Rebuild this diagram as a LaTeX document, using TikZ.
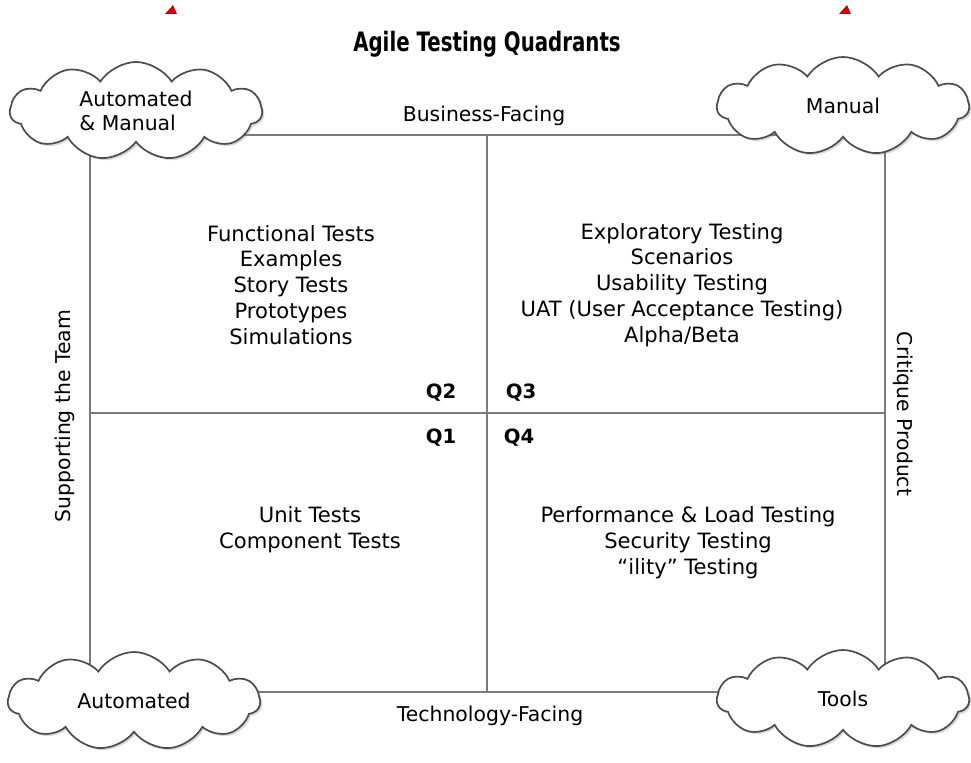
\documentclass[tikz,border=0pt]{standalone}
\usepackage{fontspec}
\setmainfont{DejaVu Sans}
\usetikzlibrary{shapes.symbols,shadows}

\begin{document}
\begin{tikzpicture}[x=0.025cm,y=-0.025cm,
  frame/.style={gray!70!black!80,line width=2pt},
  puff/.style={cloud,cloud puffs=11,cloud puff arc=115,aspect=2.6,draw=black!70,line width=1.2pt,
    fill=white,minimum width=6.3cm,minimum height=2.45cm,inner sep=0pt,
    font=\fontsize{14.5}{17.5}\selectfont,
    drop shadow={shadow xshift=1.5pt,shadow yshift=-1.5pt,opacity=0.3}},
  items/.style={align=center,font=\fontsize{15}{18.4}\selectfont},
  quad/.style={font=\fontsize{14}{16}\selectfont\bfseries},
  axis/.style={font=\fontsize{14.5}{17}\selectfont}]
  \useasboundingbox (0,0) rectangle (971,762);
  \fill[red!80!black] (165,14)--(173,5)--(177,14)--cycle;
  \fill[red!80!black] (839,14)--(847,5)--(851,14)--cycle;
  \node[font=\fontsize{19}{22}\selectfont\bfseries] (title) at (487,44) {\scalebox{0.74}[1]{Agile Testing Quadrants}};
  % frame and quadrant lines
  \coordinate (nw) at (90,135);
  \coordinate (se) at (885,692);
  \coordinate (c) at (487,413);
  \draw[frame] (nw) rectangle (se);
  \draw[frame] (c |- nw) -- (c |- se);
  \draw[frame] (nw |- c) -- (se |- c);
  % corner clouds
  \node[puff,align=left] (amcloud) at (136,111) {Automated\\\& Manual};
  \node[puff] (mancloud) at (843,106) {Manual};
  \node[puff] (autocloud) at (134,701) {Automated};
  \node[puff] (toolcloud) at (843,699) {Tools};
  % axis labels
  \node[axis] (business) at (484,116) {Business-Facing};
  \node[axis] (technology) at (490,716) {Technology-Facing};
  \node[axis,rotate=90] (support) at (65,416) {Supporting the Team};
  \node[axis,rotate=-90] (critique) at (903,414) {Critique Product};
  % quadrant contents
  \node[items] (q2list) at (291,285) {Functional Tests\\Examples\\Story Tests\\Prototypes\\Simulations};
  \node[items] (q3list) at (682,285) {Exploratory Testing\\Scenarios\\Usability Testing\\UAT (User Acceptance Testing)\\Alpha/Beta};
  \node[items] (q1list) at (310,530) {Unit Tests\\Component Tests};
  \node[items] (q4list) at (688,543) {Performance \& Load Testing\\Security Testing\\“ility” Testing};
  \node[quad] (q2) at (441,393) {Q2};
  \node[quad] (q3) at (521,393) {Q3};
  \node[quad] (q1) at (441,438) {Q1};
  \node[quad] (q4) at (519,438) {Q4};
\end{tikzpicture}
\end{document}
